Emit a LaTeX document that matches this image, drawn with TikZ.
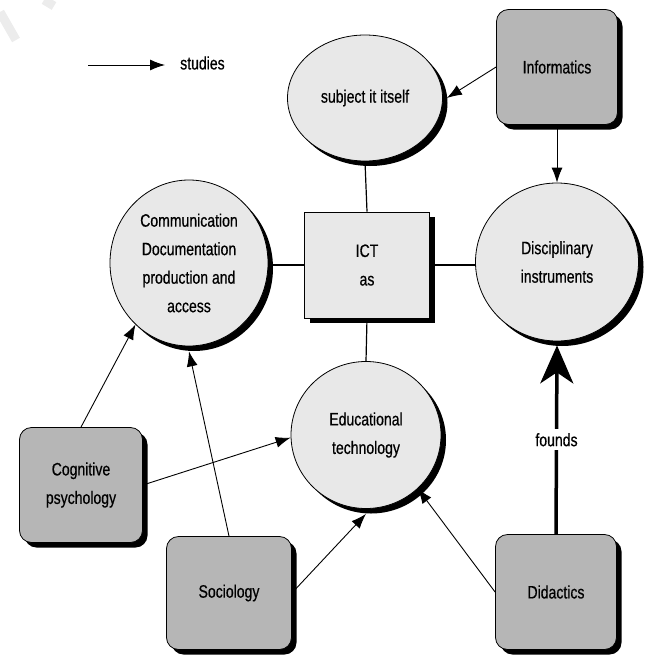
\documentclass[tikz,border=0pt]{standalone}
\usepackage{fontspec}
\setmainfont{Liberation Sans}[FakeStretch=0.78,FakeBold=0.5]
\usetikzlibrary{shapes.geometric,shadows,arrows.meta}
\definecolor{circfill}{RGB}{232,232,232}
\definecolor{boxfill}{RGB}{182,182,182}
\begin{document}
\begin{tikzpicture}[x=1pt,y=-1pt,
  txt/.style={font=\fontsize{18}{28.5}\selectfont, align=center, inner sep=0pt},
  shad/.style={drop shadow={shadow xshift=5pt, shadow yshift=-5pt, fill=black, opacity=1}},
  circ/.style={txt, ellipse, draw=black, line width=0.8pt, fill=circfill, shad},
  discbox/.style={txt, rectangle, rounded corners=12pt, draw=black, line width=0.8pt, fill=boxfill, shad, minimum width=121pt, minimum height=115pt},
  ictbox/.style={txt, rectangle, draw=black, line width=0.8pt, fill=circfill, shad, minimum width=125pt, minimum height=106pt},
  studies/.style={-{Latex[length=15pt,width=11pt]}, line width=0.9pt},
  link/.style={line width=1.2pt}
]
\useasboundingbox (0,0) rectangle (647,656);
% faint watermark fragment
\draw[line width=9pt, gray!15] (0,12) -- (16,40);
\draw[line width=9pt, gray!15] (44,0) -- (54,6);

% legend
\coordinate (lgA) at (88,65);
\coordinate (lgB) at (165,65);
\draw[studies] (lgA) -- (lgB);
\node[txt, anchor=west] (lgT) at (180,63) {studies};

% nodes
\node[circ, minimum width=155pt, minimum height=126pt] (subj) at (365,98) {subject it itself};
\node[discbox] (info) at (557,67) {Informatics};
\node[circ, minimum width=158pt, minimum height=166pt] (comm) at (189,263) {Communication\\Documentation\\production and\\access};
\node[ictbox] (ict) at (367,265) {ICT\\as};
\node[circ, minimum width=163pt, minimum height=158pt] (disc) at (557,262) {Disciplinary\\instruments};
\node[circ, minimum width=150pt, minimum height=147pt] (educ) at (366,435) {Educational\\technology};
\node[discbox, minimum width=123pt] (cog) at (81,485) {Cognitive\\psychology};
\node[discbox, minimum width=125pt, minimum height=113pt] (soc) at (229,593) {Sociology};
\node[discbox] (did) at (556,592) {Didactics};

% structural links
\draw[link] (subj.south) -- (ict.north);
\draw[link] (ict.south) -- (educ.north);
\draw[link] (ict.west) -- (ict.west -| comm.east);
\draw[link] (ict.east) -- (ict.east -| disc.west);

% studies arrows
\draw[studies] (info.west) -- ([xshift=4pt]subj.east);
\draw[studies] (info.south) -- (disc.north);
\draw[studies] (cog.north) -- (comm.229);
\draw[studies] (soc.north) -- ([yshift=-5pt]comm.south);
\draw[studies] (cog.east) -- (educ.182);
\draw[studies] (soc.east) -- ([yshift=-5pt]educ.south);
\draw[studies] (did.west) -- (educ.314);

% founds
\draw[line width=3.5pt, -{Stealth[length=38pt,width=33pt,inset=11pt]}] (did.north) -- node[txt, fill=white, inner ysep=4pt, inner xsep=2pt, pos=0.5] (fl) {founds} ([yshift=-4pt]disc.south);
\end{tikzpicture}
\end{document}
